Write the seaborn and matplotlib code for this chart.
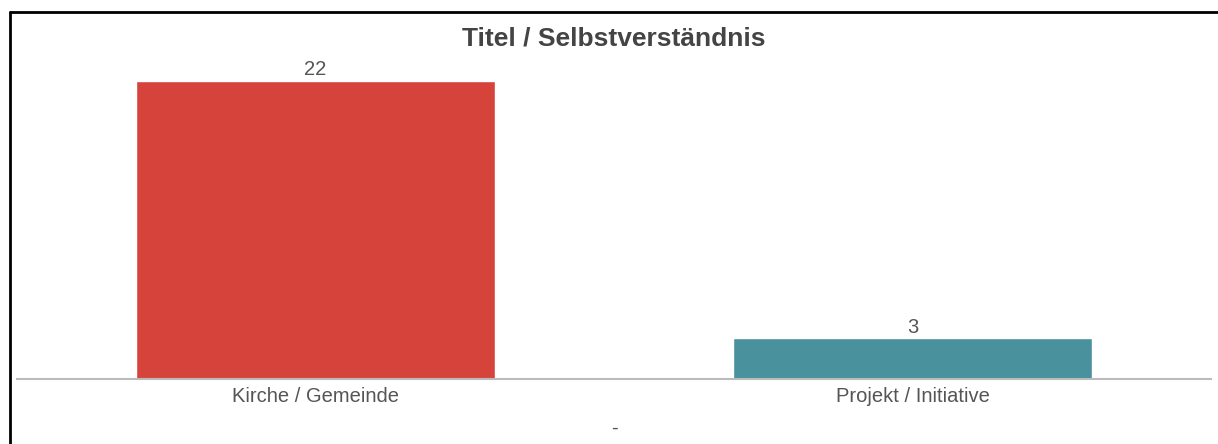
import matplotlib
matplotlib.use("Agg")
import matplotlib.pyplot as plt
import seaborn as sns
import pandas as pd
from matplotlib.lines import Line2D

categories = ["Kirche / Gemeinde", "Projekt / Initiative"]
values = [22, 3]
colors = ["#D6433B", "#4A919E"]
title = "Titel / Selbstverständnis"
xlabel = "-"

sns.set_theme(style="white")
plt.rcParams['font.family'] = ['Liberation Sans', 'DejaVu Sans']

W, H = 1218, 444
fig = plt.figure(figsize=(W / 100, H / 100), dpi=100)
ax_left, ax_right = 17, 1211
ax_bottom, ax_top = 379, 50
ax = fig.add_axes([ax_left / W, (H - ax_bottom) / H,
                   (ax_right - ax_left) / W, (ax_bottom - ax_top) / H])

df = pd.DataFrame({"cat": categories, "val": values})
sns.barplot(data=df, x="cat", y="val", hue="cat", palette=colors,
            width=0.6, legend=False, ax=ax, saturation=1)

ax.set_xlim(-0.5, 1.5)
ax.set_ylim(0, (ax_bottom - ax_top) / 13.55)
for i, v in enumerate(values):
    ax.text(i, v + 0.12, str(v), ha="center", va="bottom", fontsize=14.5,
            color="#555555", clip_on=False)

for s in ["left", "right", "top"]:
    ax.spines[s].set_visible(False)
ax.spines["bottom"].set_color("#BBBBBB")
ax.spines["bottom"].set_linewidth(1.5)
ax.set_yticks([])
ax.set_ylabel("")
ax.tick_params(axis="x", length=0, pad=6, labelsize=14.5, labelcolor="#555555")
ax.set_xlabel(xlabel, fontsize=14.5, color="#555555", labelpad=9)
ax.set_title(title, fontsize=19, fontweight="bold", color="#444444", pad=0,
             y=(ax_bottom - 26) / (ax_bottom - ax_top))
ax.title.set_va("top")

# screenshot frame (left and top edges)
fig.add_artist(Line2D([10 / W, 10 / W], [0, 1 - 12 / H], transform=fig.transFigure, color="black", lw=2))
fig.add_artist(Line2D([10 / W, 1], [1 - 12 / H, 1 - 12 / H], transform=fig.transFigure, color="black", lw=2))

fig.savefig("out.png", dpi=100, facecolor="white")
